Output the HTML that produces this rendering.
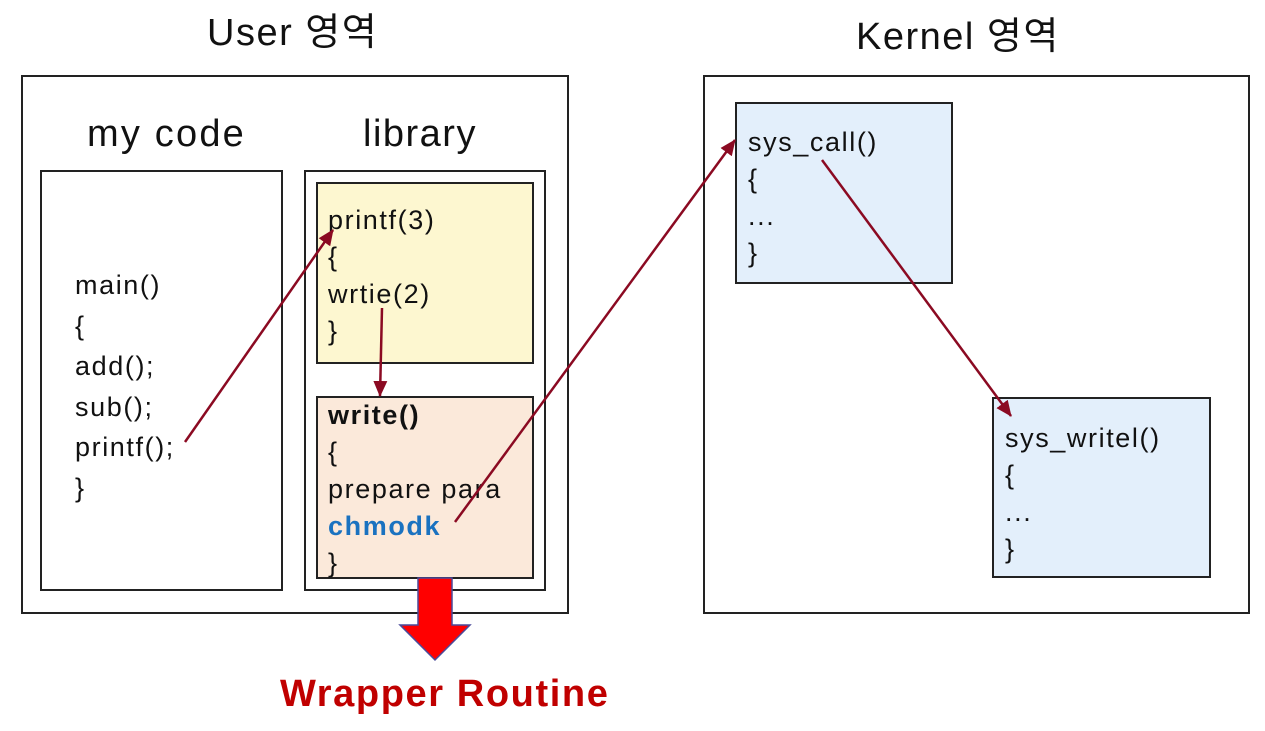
<!DOCTYPE html>
<html><head><meta charset="utf-8"><style>
body{margin:0;width:1265px;height:731px;background:#fff;position:relative;overflow:hidden;font-family:"Liberation Sans","Noto Sans CJK KR",sans-serif;color:#111}
.b{position:absolute;box-sizing:border-box;border:2px solid #222}
.t{position:absolute;white-space:nowrap;line-height:1}
.c{font-size:27px;letter-spacing:1.6px}
</style></head><body>
<div class="t" style="left:207px;top:14px;font-size:38px;letter-spacing:1.5px">User 영역</div>
<div class="t" style="left:856px;top:18px;font-size:38px;letter-spacing:1.5px">Kernel 영역</div>
<div class="b" style="left:21px;top:75px;width:548px;height:539px"></div>
<div class="b" style="left:703px;top:75px;width:547px;height:539px"></div>
<div class="t" style="left:87px;top:115px;font-size:38px;letter-spacing:2.2px">my code</div>
<div class="t" style="left:363px;top:115px;font-size:38px;letter-spacing:1.5px">library</div>
<div class="b" style="left:40px;top:170px;width:243px;height:421px"></div>
<div class="b" style="left:304px;top:170px;width:242px;height:421px"></div>
<div class="b" style="left:316px;top:182px;width:218px;height:182px;background:#fdf7d0"></div>
<div class="b" style="left:316px;top:396px;width:218px;height:183px;background:#fbe9da"></div>
<div class="b" style="left:735px;top:102px;width:218px;height:182px;background:#e3effb"></div>
<div class="b" style="left:992px;top:397px;width:219px;height:181px;background:#e3effb"></div>
<div class="t c" style="left:75px;top:265px;line-height:40.6px">main()<br>{<br>add();<br>sub();<br>printf();<br>}</div>
<div class="t c" style="left:328px;top:202px;line-height:37px">printf(3)<br>{<br>wrtie(2)<br>}</div>
<div class="t c" style="left:328px;top:397px;line-height:37px"><b>write()</b><br>{<br>prepare para<br><b style="color:#1a72c0">chmodk</b><br>}</div>
<div class="t c" style="left:748px;top:124px;line-height:37px">sys_call()<br>{<br>...<br>}</div>
<div class="t c" style="left:1005px;top:420px;line-height:37px">sys_writel()<br>{<br>...<br>}</div>
<div class="t" style="left:280px;top:675px;font-size:38px;font-weight:bold;color:#c00000;letter-spacing:1.6px">Wrapper Routine</div>
<svg width="1265" height="731" style="position:absolute;left:0;top:0">
<defs><marker id="a" markerWidth="16" markerHeight="14" refX="15" refY="7" orient="auto" markerUnits="userSpaceOnUse" viewBox="0 0 16 14"><path d="M0,0L16,7L0,14z" fill="#8b0a22"/></marker></defs>
<g stroke="#8b0a22" stroke-width="2.5" fill="none">
<line x1="185" y1="442" x2="333" y2="230" marker-end="url(#a)"/>
<line x1="382" y1="308" x2="380" y2="396" marker-end="url(#a)"/>
<line x1="455" y1="522" x2="735" y2="140" marker-end="url(#a)"/>
<line x1="822" y1="160" x2="1011" y2="416" marker-end="url(#a)"/>
</g>
<path d="M418,578H452V625H470L435,660L400,625H418Z" fill="#f00" stroke="#4a4a9a" stroke-width="1.5"/>
</svg>
</body></html>
